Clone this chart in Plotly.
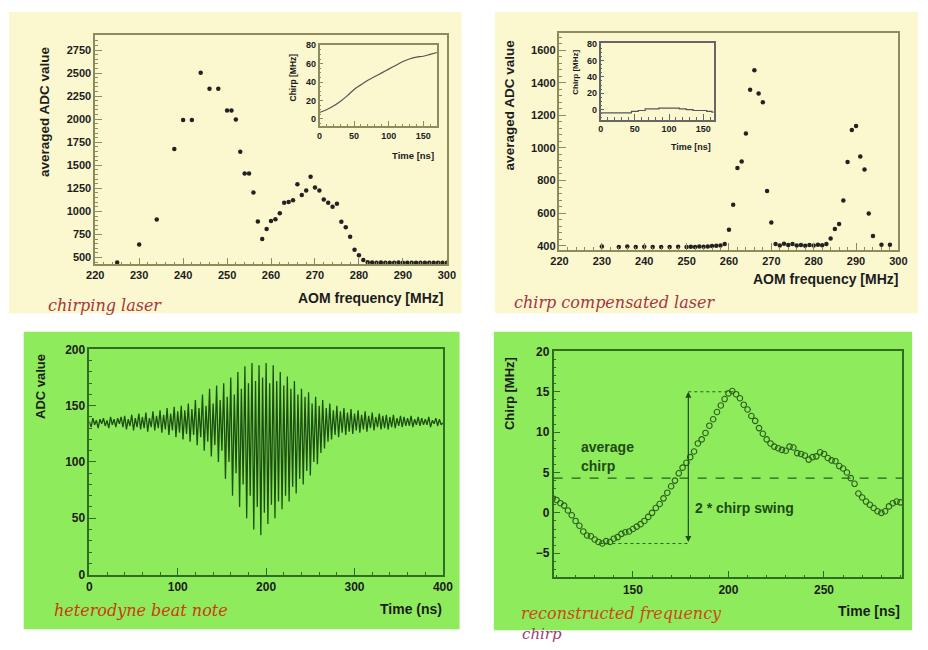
import plotly.graph_objects as go

W, H = 928, 650

# ---------------- data ----------------
# Top-left: chirping laser
tl_freq = [225, 230, 234, 238, 240, 242, 244, 246, 248, 250, 251, 252, 253, 254, 255, 256,
           257, 258, 259, 260, 261, 262, 263, 264, 265, 266, 267, 268, 269, 270, 271, 272,
           273, 274, 275, 276, 277, 278, 279, 280, 281, 282, 283, 284, 285, 286, 287, 288,
           289, 290, 291, 292, 293, 294, 295, 296, 297, 298, 299, 300]
tl_adc = [445, 642, 912, 1678, 1990, 1990, 2505, 2331, 2331, 2094, 2094, 1998, 1646, 1412, 1412, 1206,
          890, 702, 809, 897, 915, 979, 1093, 1103, 1121, 1295, 1178, 1228, 1377, 1259, 1228, 1128,
          1093, 1050, 1082, 887, 827, 724, 585, 525, 472, 450, 445, 443, 445, 442, 444, 443,
          445, 442, 444, 443, 442, 444, 443, 442, 443, 444, 442, 443]
tl_in_time = [0, 10, 20, 30, 40, 50, 60, 70, 80, 90, 100, 110, 120, 130, 140, 150, 160, 170]
tl_in_chirp = [7, 10, 14, 19, 25, 32, 37, 42, 46, 50, 54, 58, 62, 65, 67, 68, 70, 72]

# Top-right: chirp compensated laser
tr_freq = [230, 234, 236, 238, 240, 242, 244, 246, 248, 250, 251, 252, 253, 254, 255, 256, 257, 258,
           259, 260, 261, 262, 263, 264, 265, 266, 267, 268, 269, 270,
           271, 272, 273, 274, 275, 276, 277, 278, 279, 280, 281, 282, 283,
           284, 285, 286, 287, 288, 289, 290, 291, 292, 293, 294, 296, 298]
tr_adc = [395, 393, 395, 392, 394, 392, 393, 392, 394, 392, 394, 393, 395, 394, 396, 398, 400, 402,
          410, 498, 652, 876, 916, 1088, 1356, 1476, 1334, 1280, 736, 542,
          410, 402, 412, 404, 410, 402, 405, 400, 404, 402, 406, 403, 410,
          444, 502, 534, 678, 914, 1110, 1134, 948, 868, 598, 460, 406, 406]
tr_in_time = [0, 10, 20, 30, 40, 50, 60, 70, 80, 90, 100, 110, 120, 130, 140, 150, 160, 165]
tr_in_chirp = [-4, -4, -4, -4, -4, -2, -1, 1, 1, 2, 2, 2, 1, 0, -1, -1, -2, -3]

# Bottom-left: heterodyne beat note (2 ns sampling, 0..400 ns)
bl_time = list(range(0, 401, 2))
bl_adc = [136, 131, 139, 133, 137, 130, 138, 134, 139, 132,
          137, 130, 140, 133, 138, 131, 139, 134, 140, 131,
          141, 129, 138, 132, 142, 128, 139, 131, 143, 129,
          140, 130, 144, 127, 139, 131, 145, 128, 141, 130,
          146, 126, 142, 129, 148, 124, 143, 128, 149, 122,
          145, 126, 150, 120, 146, 125, 152, 118, 147, 124,
          155, 115, 148, 122, 160, 110, 150, 118, 165, 105,
          152, 115, 168, 100, 155, 110, 170, 85, 158, 100,
          175, 70, 160, 90, 180, 60, 165, 80, 185, 50,
          170, 70, 188, 40, 172, 60, 186, 35, 175, 55,
          188, 45, 170, 62, 186, 50, 172, 65, 180, 58,
          168, 70, 176, 65, 165, 78, 172, 72, 160, 85,
          165, 80, 158, 92, 162, 88, 152, 100, 158, 98,
          150, 108, 155, 112, 148, 118, 152, 120, 146, 124,
          150, 122, 145, 126, 148, 124, 144, 127, 147, 125,
          143, 128, 146, 126, 142, 129, 145, 127, 141, 130,
          144, 128, 140, 131, 143, 129, 141, 130, 142, 129,
          140, 131, 142, 130, 139, 132, 141, 131, 140, 132,
          139, 132, 141, 131, 138, 133, 140, 132, 139, 133,
          138, 133, 140, 131, 137, 134, 139, 132, 138, 133,
          135]

# Bottom-right: reconstructed frequency chirp (2 ns sampling, 108..290 ns)
br_time = list(range(108, 291, 2))
br_chirp = [1.8, 1.6,
            1.2, 0.9, 0.3, -0.3, -1.0, -1.6, -2.3, -2.8, -2.9,
            -3.3, -3.6, -3.8, -3.5, -3.6, -3.2, -3.0, -2.6, -2.4, -2.3,
            -2.0, -1.7, -1.4, -1.0, -0.5, 0.0, 0.6, 1.1, 1.8, 2.5,
            3.3, 4.0, 4.9, 5.6, 6.2, 6.9, 7.6, 8.6, 9.1, 9.9,
            10.8, 11.6, 12.5, 13.3, 14.1, 14.8, 15.1, 14.7, 14.2, 13.4,
            12.8, 12.0, 11.4, 10.5, 9.8, 9.1, 8.6, 8.2, 8.0, 7.8,
            7.7, 8.2, 8.1, 7.4, 7.3, 7.1, 6.6, 6.9, 7.0, 7.5,
            7.3, 6.8, 6.5, 6.4, 5.8, 5.5, 5.0, 4.3, 3.6, 2.4,
            1.9, 1.4, 1.0, 0.6, 0.2, 0.0, 0.2, 0.8, 1.2, 1.4,
            1.3]
avg_chirp = 4.3
swing_top, swing_bot, swing_x = 15.0, -3.8, 179

# ---------------- helpers ----------------
def px(x):
    return x / W

def py(y):
    return 1 - y / H

YELLOW = "#fbf8d0"
GREEN = "#8eec5c"
OLIVE = "#8c8c5c"
DKGREEN = "#2f6e22"
TXT = "#1c1c1c"

fig = go.Figure()

fig.add_trace(go.Scatter(x=tl_freq, y=tl_adc, mode="markers", xaxis="x", yaxis="y",
                         marker=dict(size=4.5, color="#222"), showlegend=False))
fig.add_trace(go.Scatter(x=tl_in_time, y=tl_in_chirp, mode="lines", xaxis="x2", yaxis="y2",
                         line=dict(color="#555", width=1.2, shape="spline"), showlegend=False))
fig.add_trace(go.Scatter(x=tr_freq, y=tr_adc, mode="markers", xaxis="x3", yaxis="y3",
                         marker=dict(size=4.5, color="#222"), showlegend=False))
fig.add_trace(go.Scatter(x=tr_in_time, y=tr_in_chirp, mode="lines", xaxis="x4", yaxis="y4",
                         line=dict(color="#555", width=1.2, shape="hvh"), showlegend=False))
fig.add_trace(go.Scatter(x=bl_time, y=bl_adc, mode="lines", xaxis="x5", yaxis="y5",
                         line=dict(color="#1d4f14", width=1.3), showlegend=False))
fig.add_trace(go.Scatter(x=br_time, y=br_chirp, mode="markers", xaxis="x6", yaxis="y6",
                         marker=dict(size=5.5, color="#2a5e1c", symbol="circle-open",
                                     line=dict(width=1.1)), showlegend=False))

def ax(domain, rng, col, tickvals, dtick_minor, size=11, ticklen=7, anchor=None):
    return dict(domain=domain, range=rng, showline=True, linecolor=col, linewidth=1.5,
                mirror=True, ticks="inside", tickcolor=col, ticklen=ticklen, tickwidth=1,
                tickvals=tickvals, showgrid=False, zeroline=False, anchor=anchor,
                tickfont=dict(family="Liberation Sans", size=size, color=TXT, weight="bold"),
                minor=dict(ticks="inside", ticklen=max(2, ticklen // 2), tickcolor=col,
                           dtick=dtick_minor, showgrid=False),
                fixedrange=True)

layout = dict(
    width=W, height=H, autosize=False, margin=dict(l=0, r=0, t=0, b=0),
    paper_bgcolor="white", plot_bgcolor="rgba(0,0,0,0)", showlegend=False,
    xaxis=ax([px(88), px(447)], [220, 300], OLIVE, list(range(220, 301, 10)), 2, anchor="y"),
    yaxis=ax([py(263), py(29)], [426, 2909], OLIVE, list(range(500, 2751, 250)), 50, anchor="x"),
    xaxis2=ax([px(317), px(437)], [0, 170], OLIVE, [0, 50, 100, 150], 10, size=9, ticklen=6, anchor="y2"),
    yaxis2=ax([py(122), py(39)], [-8, 80], OLIVE, [0, 20, 40, 60, 80], 5, size=9, ticklen=4, anchor="x2"),
    xaxis3=ax([px(562), px(908)], [220, 300], OLIVE, list(range(220, 301, 10)), 2, anchor="y3"),
    yaxis3=ax([py(248), py(27)], [376, 1702], OLIVE, list(range(400, 1601, 200)), 40, anchor="x3"),
    xaxis4=ax([px(604), px(720)], [0, 166], "#666", [0, 50, 100, 150], 10, size=9, ticklen=6, anchor="y4"),
    yaxis4=ax([py(115), py(37)], [-12, 81], "#666", [0, 20, 40, 60, 80], 5, size=9, ticklen=4, anchor="x4"),
    xaxis5=ax([px(82), px(443)], [0, 400], DKGREEN, list(range(0, 401, 100)), 20, size=12, anchor="y5"),
    yaxis5=ax([py(580), py(350)], [0, 200], DKGREEN, list(range(0, 201, 50)), 10, size=12, anchor="x5"),
    xaxis6=ax([px(556), px(912)], [108.5, 291], DKGREEN, [150, 200, 250], 10, size=12, anchor="y6"),
    yaxis6=ax([py(583), py(352)], [-8, 20], DKGREEN, [-5, 0, 5, 10, 15, 20], 1, size=12, anchor="x6"),
)
fig.update_layout(**layout)

shapes = [
    dict(type="rect", xref="paper", yref="paper", x0=px(0), x1=px(462), y0=py(313), y1=py(5),
         fillcolor=YELLOW, line=dict(width=0), layer="below"),
    dict(type="rect", xref="paper", yref="paper", x0=px(496), x1=px(928), y0=py(313), y1=py(5),
         fillcolor=YELLOW, line=dict(width=0), layer="below"),
    dict(type="rect", xref="paper", yref="paper", x0=px(15), x1=px(460), y0=py(636), y1=py(332),
         fillcolor=GREEN, line=dict(width=0), layer="below"),
    dict(type="rect", xref="paper", yref="paper", x0=px(495), x1=px(922), y0=py(637), y1=py(332),
         fillcolor=GREEN, line=dict(width=0), layer="below"),
    # bottom-right annotations
    dict(type="line", xref="x6", yref="y6", x0=108.5, x1=291, y0=avg_chirp, y1=avg_chirp,
         line=dict(color="#2a5e1c", width=1.2, dash="dash")),
    dict(type="line", xref="x6", yref="y6", x0=swing_x, x1=203, y0=swing_top, y1=swing_top,
         line=dict(color="#2a5e1c", width=1, dash="dot")),
    dict(type="line", xref="x6", yref="y6", x0=133, x1=swing_x, y0=swing_bot, y1=swing_bot,
         line=dict(color="#2a5e1c", width=1, dash="dot")),
]
fig.update_layout(shapes=shapes)

def txt(text, x, y, size, xanchor="left", yanchor="middle", angle=0, color=TXT,
        family="Liberation Sans", weight="bold", style="normal"):
    return dict(text=text, x=px(x), y=py(y), xref="paper", yref="paper", showarrow=False,
                xanchor=xanchor, yanchor=yanchor, textangle=angle,
                font=dict(size=size, color=color, family=family, weight=weight, style=style))

SERIF = "DejaVu Serif"
annotations = [
    # axis titles
    txt("averaged ADC value", 36, 107, 13.5, xanchor="center", angle=-90),
    txt("AOM frequency [MHz]", 445, 297, 14, xanchor="right"),
    txt("Chirp [MHz]", 290, 72, 8.5, xanchor="center", angle=-90),
    txt("Time [ns]", 436, 152, 9.5, xanchor="right"),
    txt("averaged ADC value", 511, 100, 13.5, xanchor="center", angle=-90),
    txt("AOM frequency [MHz]", 910, 278, 14, xanchor="right"),
    txt("Chirp [MHz]", 578, 67, 8, xanchor="center", angle=-90),
    txt("Time [ns]", 719, 143, 9, xanchor="right"),
    txt("ADC value", 32, 388, 13, xanchor="center", angle=-90),
    txt("Time (ns)", 444, 615, 14, xanchor="right"),
    txt("Chirp [MHz]", 511, 395, 13, xanchor="center", angle=-90),
    txt("Time [ns]", 912, 617, 14, xanchor="right"),
    # panel captions
    txt("chirping laser", 38, 305, 16, color="#a8343c", family=SERIF, weight="normal", style="italic"),
    txt("chirp compensated laser", 514, 302, 16, color="#a8343c", family=SERIF, weight="normal", style="italic"),
    txt("heterodyne beat note", 44, 617, 16, color="#cc3a12", family=SERIF, weight="normal", style="italic"),
    txt("reconstructed frequency", 521, 620, 16, color="#cc4a14", family=SERIF, weight="normal", style="italic"),
    txt("chirp", 522, 641, 15, color="#a03a78", family=SERIF, weight="normal", style="italic"),
    # bottom-right labels
    dict(text="average", x=122, y=8.2, xref="x6", yref="y6", showarrow=False, xanchor="left",
         font=dict(size=14, color="#1f4a14", family="Liberation Sans", weight="bold")),
    dict(text="chirp", x=122, y=5.8, xref="x6", yref="y6", showarrow=False, xanchor="left",
         font=dict(size=14, color="#1f4a14", family="Liberation Sans", weight="bold")),
    dict(text="2 * chirp swing", x=181.5, y=0.6, xref="x6", yref="y6", showarrow=False, xanchor="left",
         font=dict(size=14, color="#1f4a14", family="Liberation Sans", weight="bold")),
    # double-headed arrow
    dict(x=swing_x, y=swing_top, ax=swing_x, ay=swing_bot, xref="x6", yref="y6",
         axref="x6", ayref="y6", text="", showarrow=True, arrowhead=2, arrowside="end+start",
         arrowsize=1, arrowwidth=1.2, arrowcolor="#1f4a14"),
]
fig.update_layout(annotations=annotations)

fig.write_html("out.html", config={"displayModeBar": False},
               post_script="document.body.style.margin='0';document.body.style.overflow='hidden';")
